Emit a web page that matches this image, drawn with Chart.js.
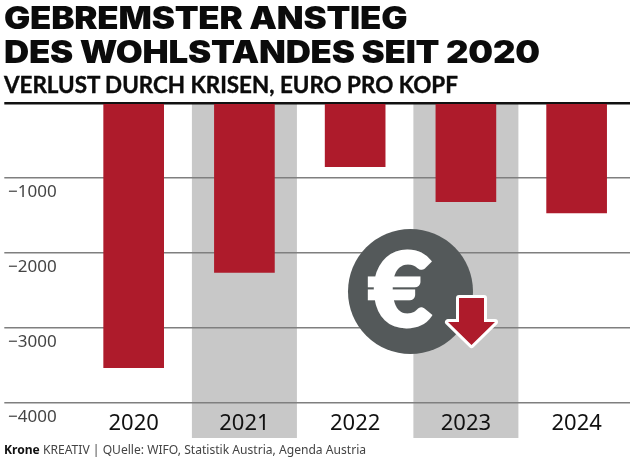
<!DOCTYPE html>
<html>
<head>
<meta charset="utf-8">
<script src="https://cdn.jsdelivr.net/npm/chart.js@4/dist/chart.umd.min.js"></script>
<style>
  html, body { margin: 0; padding: 0; background: #fff; }
  #wrap { position: relative; width: 630px; height: 459px; overflow: hidden; }
  canvas { position: absolute; left: 0; top: 0; }
  .txt { position: absolute; white-space: nowrap; color: #0b0b0b; }
  #t1, #t2 { left: 4px; font-family: "Inter", sans-serif; font-size: 31px; font-weight: 900; line-height: 34px; letter-spacing: -0.2px; transform: scaleX(1.125); transform-origin: left center; }
  #t1 { top: 1px; }
  #t2 { top: 35px; }
  #sub { left: 4px; top: 72px; font-family: "Lato", sans-serif; font-size: 22.4px; font-weight: 700; line-height: 25px; -webkit-text-stroke: 0.4px #0b0b0b; }
  #foot { left: 4px; top: 441px; font-family: "Noto Sans", sans-serif; font-size: 12.1px; line-height: 17px; color: #444; }
  #foot b { color: #111; }
</style>
</head>
<body>
<div id="wrap">
  <canvas id="chart" width="632" height="459"></canvas>
  <div class="txt" id="t1">GEBREMSTER ANSTIEG</div>
  <div class="txt" id="t2">DES WOHLSTANDES SEIT 2020</div>
  <div class="txt" id="sub">VERLUST DURCH KRISEN, EURO PRO KOPF</div>
  <div class="txt" id="foot"><b>Krone</b> KREATIV | QUelle: WIFO, Statistik Austria, Agenda Austria</div>
</div>
<script>
const years = ['2020', '2021', '2022', '2023', '2024'];
const verlust = [-3530, -2260, -850, -1315, -1465];
const shadedYears = ['2021', '2023'];

// grey bands behind the grid, they run on below the axis
const bandPlugin = {
  id: 'bands',
  beforeDraw(chart) {
    const { ctx, scales: { x, y } } = chart;
    ctx.save();
    ctx.fillStyle = '#c8c8c8';
    shadedYears.forEach(year => {
      const cx = x.getPixelForValue(years.indexOf(year));
      ctx.fillRect(cx - 52.5, y.getPixelForValue(0), 105, 438 - y.getPixelForValue(0));
    });
    ctx.restore();
  }
};

// euro coin with the red arrow on top of everything
const coinPlugin = {
  id: 'coin',
  afterDraw(chart) {
    const ctx = chart.ctx;
    ctx.save();
    ctx.fillStyle = '#54595a';
    ctx.beginPath();
    ctx.arc(410.5, 291.5, 62.5, 0, Math.PI * 2);
    ctx.fill();

    ctx.save();
    ctx.translate(400, 293);
    ctx.scale(1.08, 1);
    ctx.fillStyle = '#fff';
    ctx.strokeStyle = '#fff';
    ctx.lineWidth = 3;
    ctx.font = '900 102px "Lato", sans-serif';
    ctx.textAlign = 'center';
    ctx.textBaseline = 'middle';
    ctx.fillText('€', 0, 0);
    ctx.strokeText('€', 0, 0);
    ctx.restore();

    ctx.beginPath();
    ctx.moveTo(459, 298);
    ctx.lineTo(484, 298);
    ctx.lineTo(484, 322);
    ctx.lineTo(495, 322);
    ctx.lineTo(471.5, 345);
    ctx.lineTo(448, 322);
    ctx.lineTo(459, 322);
    ctx.closePath();
    ctx.lineJoin = 'round';
    ctx.lineWidth = 6;
    ctx.strokeStyle = '#fff';
    ctx.stroke();
    ctx.fillStyle = '#ae1b2b';
    ctx.fill();
    ctx.restore();
  }
};

new Chart(document.getElementById('chart'), {
  type: 'bar',
  data: {
    labels: years,
    datasets: [{
      data: verlust,
      backgroundColor: '#ae1b2b',
      barThickness: 60
    }]
  },
  options: {
    responsive: false,
    animation: false,
    layout: { padding: { left: 8, right: 0, top: 103, bottom: 0 } },
    plugins: { legend: { display: false }, tooltip: { enabled: false } },
    scales: {
      x: {
        grid: { display: false },
        border: { display: false },
        ticks: {
          color: '#111',
          font: { family: '"Noto Sans"', size: 22 },
          padding: 0,
          maxRotation: 0
        },
        afterFit(scale) { scale.height = 56; }
      },
      y: {
        min: -4000,
        max: 0,
        border: { display: false },
        grid: {
          color: c => (c.tick.value === 0 ? '#111' : '#7f7f7f'),
          tickColor: c => (c.tick.value === 0 ? '#111' : '#7f7f7f'),
          lineWidth: c => (c.tick.value === 0 ? 2.5 : 1.5),
          tickWidth: c => (c.tick.value === 0 ? 2.5 : 1.5),
          tickLength: 74
        },
        ticks: {
          stepSize: 1000,
          crossAlign: 'far',
          color: '#444',
          font: { family: '"Noto Sans"', size: 17, lineHeight: 1.7 },
          callback: v => (v === 0 ? '' : ['', '−' + Math.abs(v)])
        },
        afterFit(scale) { scale.width = 70.3; }
      }
    }
  },
  plugins: [bandPlugin, coinPlugin]
});
</script>
</body>
</html>
